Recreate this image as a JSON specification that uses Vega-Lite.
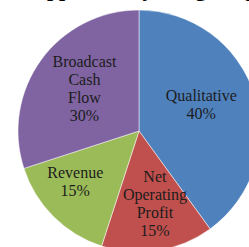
{
  "$schema": "https://vega.github.io/schema/vega-lite/v6.json",
  "width": 278,
  "height": 262,
  "autosize": {"type": "none"},
  "padding": 0,
  "background": "white",
  "title": {"text": "Approach by Weighting", "font": "Liberation Serif", "fontSize": 22, "fontWeight": "bold", "color": "black", "anchor": "start", "frame": "group", "dx": 31, "dy": 18, "offset": 0, "baseline": "alphabetic"},
  "data": {"values": [
    {"category": "Qualitative", "pct": 40, "label": "Qualitative\n40%", "lines": 2, "idx": 1},
    {"category": "Net Operating Profit", "pct": 15, "label": "Net\nOperating\nProfit\n15%", "lines": 4, "idx": 2},
    {"category": "Revenue", "pct": 15, "label": "Revenue\n15%", "lines": 2, "idx": 3},
    {"category": "Broadcast Cash Flow", "pct": 30, "label": "Broadcast\nCash\nFlow\n30%", "lines": 4, "idx": 4}
  ]},
  "encoding": {
    "theta": {"field": "pct", "type": "quantitative", "stack": true},
    "order": {"field": "idx", "type": "quantitative"}
  },
  "layer": [
    {
      "mark": {"type": "arc", "radius": 121, "stroke": "white", "strokeWidth": 0.5},
      "encoding": {
        "color": {"field": "category", "type": "nominal", "legend": null,
          "scale": {"domain": ["Qualitative", "Net Operating Profit", "Revenue", "Broadcast Cash Flow"], "range": ["#4F81BD", "#C0504D", "#9BBB59", "#8064A2"]}}
      }
    },
    {
      "mark": {"type": "text", "radius": 76, "dx": -10, "dy": -12, "font": "Liberation Serif", "fontSize": 16, "lineHeight": 18, "lineBreak": "\n", "baseline": "middle", "align": "center", "color": "#1c1c1c"},
      "encoding": {"text": {"condition": {"test": "datum.lines == 2", "field": "label"}, "value": ""}}
    },
    {
      "mark": {"type": "text", "radius": 73, "dx": 4.5, "dy": -26, "font": "Liberation Serif", "fontSize": 16, "lineHeight": 18, "lineBreak": "\n", "baseline": "middle", "align": "center", "color": "#1c1c1c"},
      "encoding": {"text": {"condition": {"test": "datum.lines == 4", "field": "label"}, "value": ""}}
    }
  ]
}
